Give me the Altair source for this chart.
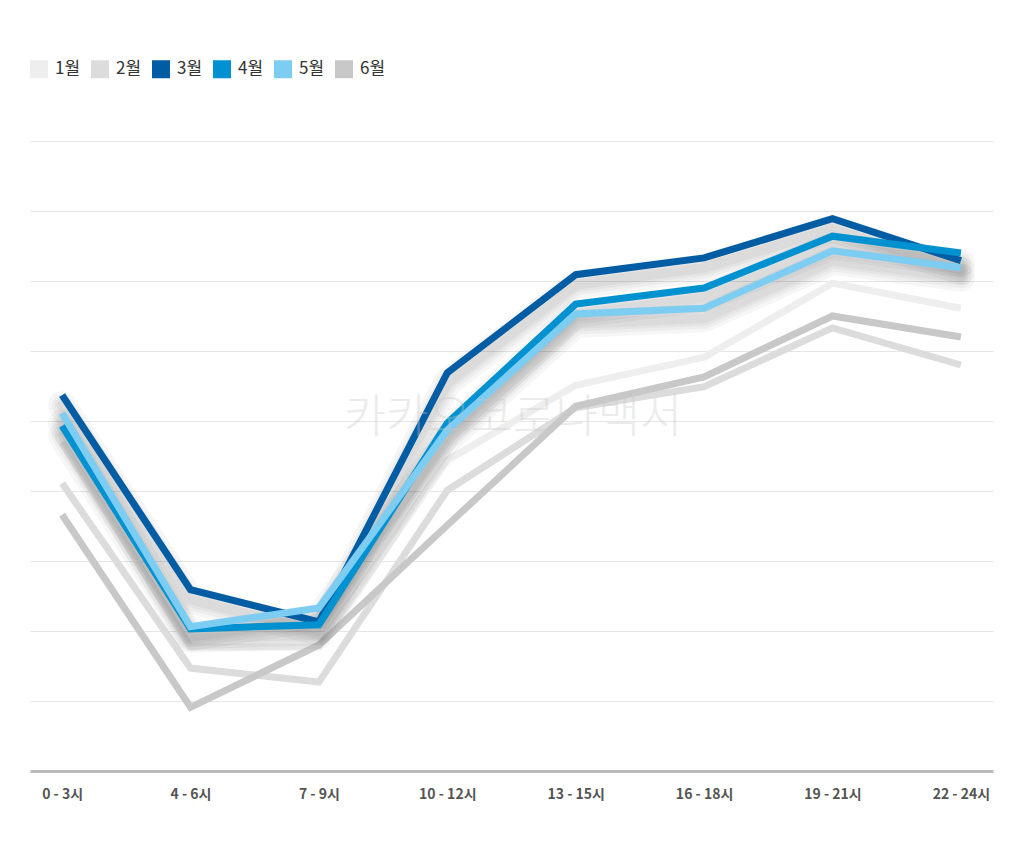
import altair as alt
import pandas as pd

hours = ["0 - 3시", "4 - 6시", "7 - 9시", "10 - 12시", "13 - 15시", "16 - 18시", "19 - 21시", "22 - 24시"]
months = ["1월", "2월", "3월", "4월", "5월", "6월"]
colors = ["#eeeeee", "#dcdcdc", "#005ca3", "#0092d0", "#7dcdf3", "#c8c8c8"]

jan = [4.70, 1.77, 1.77, 4.44, 5.51, 5.91, 6.97, 6.61]
feb = [4.11, 1.47, 1.27, 4.01, 5.19, 5.49, 6.33, 5.80]
mar = [5.37, 2.59, 2.13, 5.69, 7.09, 7.33, 7.89, 7.29]
apr = [4.93, 2.03, 2.09, 4.97, 6.67, 6.90, 7.64, 7.40]
may = [5.11, 2.06, 2.33, 4.87, 6.53, 6.61, 7.43, 7.19]
jun = [3.66, 0.91, 1.80, 3.51, 5.21, 5.63, 6.50, 6.20]

series = [jan, feb, mar, apr, may, jun]
rows = []
for m, vals in zip(months, series):
    for h, v in zip(hours, vals):
        rows.append({"month": m, "hour": h, "value": v})
df = pd.DataFrame(rows)

gray_months = ["1월", "2월", "6월"]
blue_months = ["3월", "4월", "5월"]

FONT = "Noto Sans CJK KR"

x_enc = alt.X("hour:N", sort=hours, scale=alt.Scale(padding=0.25),
              axis=alt.Axis(title=None, labelAngle=0, labelFontSize=14, labelFontWeight="bold",
                            labelColor="#555555", labelFont=FONT, labelPadding=16,
                            domainColor="#bbbbbb", domainWidth=3, ticks=False, grid=False))
y_enc = alt.Y("value:Q", scale=alt.Scale(domain=[0, 9], nice=False, zero=True),
              axis=alt.Axis(title=None, labels=False, ticks=False, domain=False, grid=True,
                            values=[1, 2, 3, 4, 5, 6, 7, 8, 9], gridColor="#e6e6e6", gridWidth=1))

legend = alt.Legend(title=None, orient="none", legendX=0, legendY=-81,
                    direction="horizontal", columns=6,
                    symbolType="square", symbolSize=81, symbolStrokeWidth=9,
                    symbolOpacity=1, labelFontSize=17, labelColor="#333333",
                    labelFont=FONT, labelOffset=7, columnPadding=-4)
stroke_enc = alt.Stroke("month:N", scale=alt.Scale(domain=months, range=colors), legend=legend)

base = alt.Chart(df)

gray_lines = base.transform_filter(
    alt.FieldOneOfPredicate(field="month", oneOf=gray_months)
).mark_line(strokeWidth=7, strokeJoin="miter", strokeCap="butt").encode(
    x=x_enc, y=y_enc, stroke=stroke_enc, detail="month:N"
)

shadows = []
for w in [28, 21, 15, 10]:
    shadows.append(
        base.transform_filter(
            alt.FieldOneOfPredicate(field="month", oneOf=blue_months)
        ).mark_line(strokeWidth=w, color="#000000", opacity=0.035, yOffset=10,
                    strokeJoin="round", strokeCap="round").encode(
            x=alt.X("hour:N", sort=hours), y="value:Q", detail="month:N"
        )
    )

blue_lines = base.transform_filter(
    alt.FieldOneOfPredicate(field="month", oneOf=blue_months)
).mark_line(strokeWidth=7, strokeJoin="miter", strokeCap="butt").encode(
    x=alt.X("hour:N", sort=hours), y="value:Q", stroke=stroke_enc, detail="month:N"
)

watermark = alt.Chart(pd.DataFrame({"t": ["카카오코로나백서"]})).mark_text(
    fontSize=46, font=FONT, fontWeight=300, color="#c8c8c8", opacity=0.35,
    align="center", baseline="middle"
).encode(x=alt.value(483), y=alt.value(277), text="t:N")

chart = alt.layer(gray_lines, *shadows, blue_lines, watermark).properties(
    width=963, height=630,
    background="#ffffff",
    autosize=alt.AutoSizeParams(type="none"),
    padding={"left": 22, "top": 133, "right": 23, "bottom": 70},
).configure_view(stroke=None).configure_legend(symbolStrokeWidth=9, symbolSize=81)

chart.save("out.html", embed_options={"renderer": "svg", "actions": False})
